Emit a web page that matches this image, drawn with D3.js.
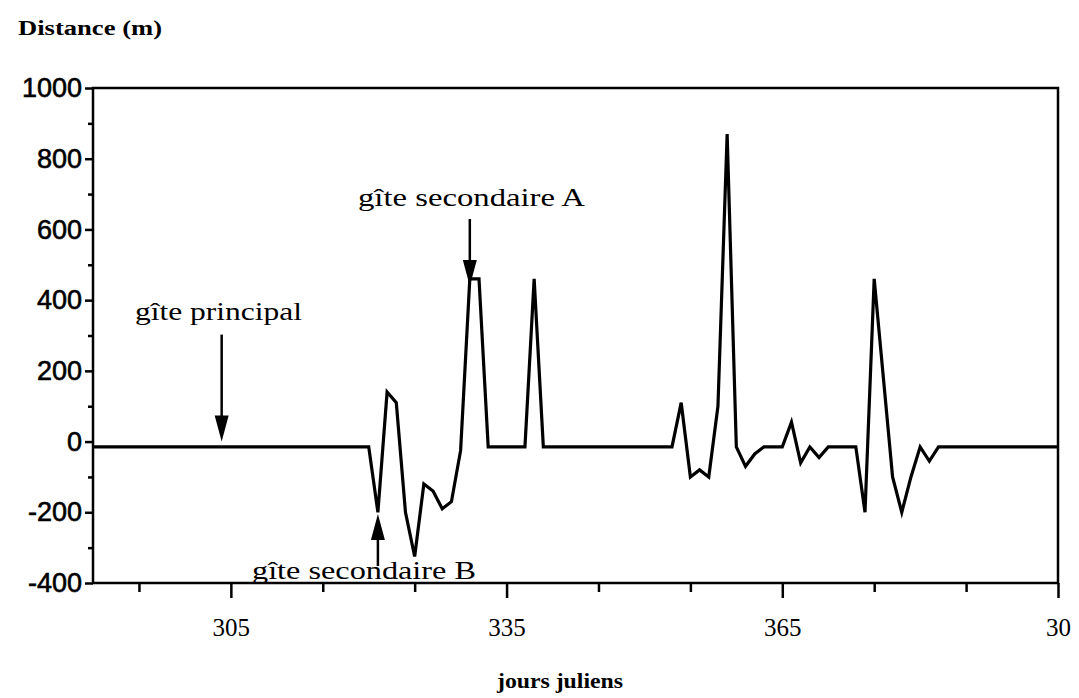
<!DOCTYPE html>
<html>
<head>
<meta charset="utf-8">
<script src="https://cdn.jsdelivr.net/npm/d3@7"></script>
<style>
  body { margin: 0; background: #fff; }
  .ylab text { font-family: "Liberation Sans", Arial, sans-serif; font-size: 27px; fill: #000; stroke: #000; stroke-width: 0.6px; }
  .xlab text { font-family: "Liberation Serif", "Times New Roman", serif; font-size: 25px; fill: #000; }
  .ann { font-family: "Liberation Serif", "Times New Roman", serif; font-size: 25px; fill: #000; }
  .title { font-family: "Liberation Serif", "Times New Roman", serif; font-size: 20px; font-weight: bold; fill: #000; }
</style>
</head>
<body>
<svg id="chart"></svg>
<script>
// vertices of the track (julian day, distance in m)
var jours =    [290, 320, 321, 322, 323, 324, 325, 326, 327, 328, 329, 330, 331, 332, 333, 337, 338, 339,
                353, 354, 355, 356, 357, 358, 359, 360, 361, 362, 363, 365, 366, 367, 368, 369, 370, 373,
                374, 375, 376, 377, 378, 379, 380, 381, 382, 395];
var distance = [-15, -15, -200, 140, 110, -200, -325, -120, -140, -190, -170, -25, 460, 460, -15, -15, 460, -15,
                -15, 110, -100, -80, -100, 100, 870, -15, -70, -35, -15, -15, 55, -60, -15, -45, -15, -15,
                -200, 460, 180, -100, -200, -100, -15, -55, -15, -15];

var yMajor = [-400, -200, 0, 200, 400, 600, 800, 1000];
var yMinor = [-300, -100, 100, 300, 500, 700, 900];
var xMajor = [305, 335, 365, 395];
var xMinor = [295, 315, 325, 345, 355, 375, 385];

// annotations: label, day / value pointed at, arrow direction
var notes = [
  { label: "gîte principal",     day: 304, value: 0,    dir: "down", shaft: 107, tx: 135, ty: 320, len: 167 },
  { label: "gîte secondaire A",  day: 331, value: 440,  dir: "down", shaft: 67,  tx: 358, ty: 206, len: 227 },
  { label: "gîte secondaire B",  day: 321, value: -205, dir: "up",   shaft: 52,  tx: 252, ty: 579, len: 224 }
];

var W = 1079, H = 698;
var margin = { top: 88, right: 21, bottom: 115, left: 93 },
  width = W - margin.left - margin.right,
  height = H - margin.top - margin.bottom;

var svg = d3.select("#chart").attr("width", W).attr("height", H);
var g = svg.append("g").attr("transform", "translate(" + margin.left + "," + margin.top + ")");

var x = d3.scaleLinear().domain([290, 395]).range([0, width]);
var y = d3.scaleLinear().domain([-400, 1000]).range([height, 0]);

function thick(s) {
  s.select(".domain").remove();
  s.selectAll("line").attr("stroke-width", 2.5);
}

// y axis
g.append("g").attr("class", "ylab")
  .call(d3.axisLeft(y).tickValues(yMajor).tickSize(8).tickPadding(3)
    .tickFormat(function(d) { return String(d); }))
  .call(thick);
g.append("g")
  .call(d3.axisLeft(y).tickValues(yMinor).tickSize(5).tickFormat(""))
  .call(thick);

// x axis, days after 365 restart at 1
g.append("g").attr("class", "xlab")
  .attr("transform", "translate(0," + height + ")")
  .call(d3.axisBottom(x).tickValues(xMajor).tickSize(15).tickPadding(20)
    .tickFormat(function(d) { return d > 365 ? d - 365 : d; }))
  .call(thick);
g.append("g")
  .attr("transform", "translate(0," + height + ")")
  .call(d3.axisBottom(x).tickValues(xMinor).tickSize(9).tickFormat(""))
  .call(thick);

// frame
g.append("rect")
  .attr("width", width).attr("height", height)
  .attr("fill", "none").attr("stroke", "#000").attr("stroke-width", 2.5);

// track
var line = d3.line()
  .x(function(d, i) { return x(jours[i]); })
  .y(function(d) { return y(d); });

g.append("path")
  .datum(distance)
  .attr("fill", "none")
  .attr("stroke", "#000")
  .attr("stroke-width", 3.2)
  .attr("d", line);

// annotations with arrows
notes.forEach(function(n) {
  var ax = x(n.day), tip = y(n.value);
  var s = n.dir === "down" ? 1 : -1;
  g.append("line")
    .attr("x1", ax).attr("x2", ax)
    .attr("y1", tip - s * n.shaft).attr("y2", tip - s * 20)
    .attr("stroke", "#000").attr("stroke-width", 2.5);
  g.append("path")
    .attr("d", "M" + ax + "," + tip +
      "L" + (ax - 7) + "," + (tip - s * 26) +
      "L" + (ax + 7) + "," + (tip - s * 26) + "Z")
    .attr("fill", "#000");
  svg.append("text").attr("class", "ann")
    .attr("x", n.tx).attr("y", n.ty)
    .attr("textLength", n.len).attr("lengthAdjust", "spacingAndGlyphs")
    .text(n.label);
});

// titles
svg.append("text").attr("class", "title")
  .attr("x", 18).attr("y", 35)
  .attr("textLength", 144).attr("lengthAdjust", "spacingAndGlyphs")
  .text("Distance (m)");

svg.append("text").attr("class", "title")
  .attr("x", 560).attr("y", 688)
  .style("text-anchor", "middle")
  .attr("textLength", 126).attr("lengthAdjust", "spacingAndGlyphs")
  .text("jours juliens");
</script>
</body>
</html>
